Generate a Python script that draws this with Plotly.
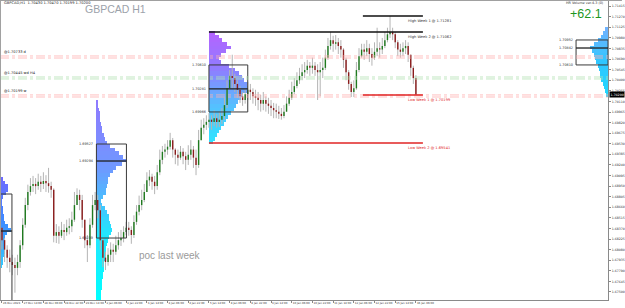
import plotly.graph_objects as go

# ---------------- data ----------------
tick_text = ["26 Dec 2023", "27 Dec 14:00", "28 Dec 06:00", "28 Dec 22:00", "29 Dec 14:00",
             "2 Jan 06:00", "2 Jan 22:00", "3 Jan 14:00", "4 Jan 06:00", "4 Jan 22:00",
             "5 Jan 14:00", "8 Jan 06:00", "8 Jan 22:00", "9 Jan 14:00", "10 Jan 06:00",
             "10 Jan 22:00", "11 Jan 14:00", "12 Jan 06:00", "12 Jan 22:00", "15 Jan 14:00",
             "16 Jan 06:00"]
tick_bar = list(range(0, 321, 16))          # H1 bar index of each time label
candle_bar = list(range(0, 321, 2))         # H1 bar index of each candle

closes = [1.6821, 1.6808, 1.6797, 1.6791, 1.6787, 1.6783, 1.6791, 1.6814, 1.6842, 1.6869,
          1.6887, 1.6895, 1.6898, 1.6895, 1.6901, 1.6898, 1.6902, 1.6899, 1.6895, 1.6890,
          1.6827, 1.6832, 1.6827, 1.6835, 1.6832, 1.6838, 1.6840, 1.6849, 1.6869, 1.6883,
          1.6876, 1.6849, 1.6821, 1.6814, 1.6842, 1.6869, 1.6876, 1.6862, 1.6821, 1.6797,
          1.6791, 1.6801, 1.6808, 1.6805, 1.6814, 1.6821, 1.6824, 1.6832, 1.6838, 1.6835,
          1.6828, 1.6846, 1.6860, 1.6869, 1.6876, 1.6887, 1.6903, 1.6908, 1.6901, 1.6895,
          1.6914, 1.6931, 1.6942, 1.6945, 1.6949, 1.6958, 1.6945, 1.6938, 1.6934, 1.6942,
          1.6936, 1.6931, 1.6938, 1.6945, 1.6934, 1.6924, 1.6958, 1.6975, 1.6979, 1.6983,
          1.6986, 1.6983, 1.6988, 1.6983, 1.6986, 1.6991, 1.7006, 1.7029, 1.7046, 1.7043,
          1.7035, 1.7027, 1.7018, 1.7013, 1.7021, 1.7027, 1.7024, 1.7018, 1.7016, 1.7013,
          1.7008, 1.7013, 1.7008, 1.7005, 1.7002, 1.6999, 1.6997, 1.6994, 1.6991, 1.6997,
          1.7008, 1.7016, 1.7024, 1.7032, 1.7040, 1.7046, 1.7051, 1.7054, 1.7060, 1.7057,
          1.7060, 1.7054, 1.7051, 1.7054, 1.7057, 1.7071, 1.7087, 1.7095, 1.7090, 1.7092,
          1.7087, 1.7082, 1.7068, 1.7051, 1.7035, 1.7024, 1.7029, 1.7054, 1.7073, 1.7082,
          1.7079, 1.7084, 1.7076, 1.7071, 1.7079, 1.7084, 1.7082, 1.7087, 1.7095, 1.7103,
          1.7106, 1.7103, 1.7092, 1.7082, 1.7079, 1.7084, 1.7087, 1.7075, 1.7057, 1.7043,
          1.7020]
highs = [1.6838, 1.6824, 1.6814, 1.6808, 1.6801, 1.6797, 1.6801, 1.6821, 1.6851, 1.6879,
         1.6897, 1.6906, 1.6909, 1.6906, 1.6912, 1.6909, 1.6914, 1.6910, 1.6920, 1.6901,
         1.6892, 1.6843, 1.6840, 1.6846, 1.6843, 1.6849, 1.6851, 1.6860, 1.6887, 1.6892,
         1.6890, 1.6883, 1.6849, 1.6828, 1.6851, 1.6883, 1.6887, 1.6883, 1.6869, 1.6824,
         1.6805, 1.6810, 1.6818, 1.6816, 1.6827, 1.6832, 1.6835, 1.6840, 1.6846, 1.6846,
         1.6840, 1.6855, 1.6869, 1.6882, 1.6890, 1.6898, 1.6914, 1.6917, 1.6912, 1.6909,
         1.6924, 1.6945, 1.6950, 1.6953, 1.6958, 1.6968, 1.6961, 1.6947, 1.6945, 1.6950,
         1.6947, 1.6942, 1.6951, 1.6958, 1.6950, 1.6945, 1.6972, 1.6986, 1.6988, 1.6992,
         1.6995, 1.6992, 1.6999, 1.6994, 1.6997, 1.7002, 1.7016, 1.7040, 1.7054, 1.7075,
         1.7049, 1.7040, 1.7032, 1.7024, 1.7029, 1.7038, 1.7035, 1.7029, 1.7027, 1.7024,
         1.7020, 1.7024, 1.7018, 1.7016, 1.7013, 1.7009, 1.7008, 1.7005, 1.7002, 1.7006,
         1.7018, 1.7027, 1.7038, 1.7043, 1.7051, 1.7057, 1.7062, 1.7065, 1.7068, 1.7065,
         1.7071, 1.7065, 1.7062, 1.7065, 1.7071, 1.7082, 1.7098, 1.71062, 1.7101, 1.7102,
         1.7098, 1.7095, 1.7084, 1.7071, 1.7054, 1.7038, 1.7040, 1.7065, 1.7084, 1.7090,
         1.7090, 1.7095, 1.7090, 1.7084, 1.7092, 1.7112, 1.7092, 1.7098, 1.7106, 1.7112,
         1.71281, 1.7112, 1.7106, 1.7095, 1.7090, 1.7092, 1.7095, 1.7092, 1.7075, 1.7060,
         1.7047]
lows = [1.6808, 1.6791, 1.6783, 1.6777, 1.6773, 1.6749, 1.6773, 1.6783, 1.6808, 1.6838,
        1.6862, 1.6882, 1.6887, 1.6884, 1.6890, 1.6887, 1.6891, 1.6887, 1.6886, 1.6879,
        1.6818, 1.6817, 1.6816, 1.6824, 1.6821, 1.6827, 1.6829, 1.6832, 1.6846, 1.6869,
        1.6862, 1.6838, 1.6810, 1.6791, 1.6810, 1.6838, 1.6862, 1.6851, 1.6808, 1.6784,
        1.6780, 1.6786, 1.6791, 1.6791, 1.6801, 1.6808, 1.6813, 1.6818, 1.6828, 1.6827,
        1.6816, 1.6824, 1.6842, 1.6855, 1.6862, 1.6873, 1.6887, 1.6895, 1.6890, 1.6884,
        1.6890, 1.6910, 1.6925, 1.6934, 1.6938, 1.6945, 1.6934, 1.6925, 1.6923, 1.6931,
        1.6925, 1.6917, 1.6924, 1.6931, 1.6920, 1.6910, 1.6920, 1.6958, 1.6966, 1.6972,
        1.6975, 1.6972, 1.6977, 1.6975, 1.6976, 1.6980, 1.6986, 1.7002, 1.7027, 1.7029,
        1.7024, 1.7016, 1.7009, 1.7005, 1.7008, 1.7013, 1.7013, 1.7008, 1.7005, 1.6999,
        1.6997, 1.6999, 1.6997, 1.6994, 1.6991, 1.6988, 1.6988, 1.6987, 1.6986, 1.6988,
        1.6997, 1.7005, 1.7013, 1.7021, 1.7029, 1.7035, 1.7040, 1.7043, 1.7049, 1.7046,
        1.7049, 1.7046, 1.7013, 1.7018, 1.7043, 1.7054, 1.7068, 1.7082, 1.7079, 1.7082,
        1.7076, 1.7071, 1.7057, 1.7040, 1.7027, 1.7017, 1.7017, 1.7027, 1.7051, 1.7071,
        1.7068, 1.7073, 1.7065, 1.7060, 1.7068, 1.7073, 1.7071, 1.7076, 1.7084, 1.7092,
        1.7098, 1.7095, 1.7084, 1.7073, 1.7071, 1.7073, 1.7076, 1.7065, 1.7046, 1.7035,
        1.70199]
first_open = 1.6838
opens = [first_open] + closes[:-1]

# weekly high / low levels
week_names = ["High Week 1", "High Week 2", "Low Week 1", "Low Week 2"]
week_levels = [1.71281, 1.71062, 1.70199, 1.69541]
week_start_bar = [279, 160, 279, 160]

# support / resistance zone lines
zone_levels = [1.70733, 1.70705, 1.70445, 1.70418, 1.70199, 1.70171]
zone_kind = ["r", "r", "g", "g", "r", "r"]
zone_labels = {0: "@1.70733 d", 2: "@1.70445 wd H4", 4: "@1.70199 w"}

# volume profiles (price bins, volume)
prof1_levels = [1.6905, 1.6900, 1.6895, 1.6890, 1.6885, 1.6880, 1.6875, 1.6870, 1.6865, 1.6860,
                1.6855, 1.6850, 1.6845, 1.6840, 1.6835, 1.6830, 1.6825, 1.6820, 1.6815, 1.6810,
                1.6805, 1.6800, 1.6795, 1.6790, 1.6785]
prof1_vol = [3, 5, 8, 8, 6, 3, 2, 2, 3, 3, 4, 4, 5, 8, 11, 7, 5, 4, 4, 5, 5, 4, 3, 3, 2]
prof1_box = (1.68842, 1.6700, 1.68335)   # top, bottom, poc

prof2_levels = [1.7010, 1.7005, 1.7000, 1.6995, 1.6990, 1.6985, 1.6980, 1.6975, 1.6970, 1.6965,
                1.6960, 1.6955, 1.6950, 1.6945, 1.6940, 1.6935, 1.6930, 1.6925, 1.6920, 1.6915,
                1.6910, 1.6905, 1.6900, 1.6895, 1.6890, 1.6885, 1.6880, 1.6875, 1.6870, 1.6865,
                1.6860, 1.6855, 1.6850, 1.6845, 1.6840, 1.6835, 1.6830, 1.6825, 1.6820, 1.6815,
                1.6810, 1.6805, 1.6800, 1.6795, 1.6790, 1.6785, 1.6780, 1.6775, 1.6770, 1.6765,
                1.6760, 1.6755, 1.6750, 1.6745, 1.6740]
prof2_vol = [2, 2, 3, 4, 4, 4, 5, 6, 6, 8, 9, 11, 14, 19, 23, 27, 30, 26, 20, 17,
             14, 12, 12, 11, 10, 10, 7, 5, 6, 9, 11, 13, 13, 14, 15, 16, 15, 13, 12, 11,
             10, 10, 9, 9, 8, 8, 8, 7, 7, 6, 6, 6, 5, 5, 5]
prof2_box = (1.69527, 1.68239, 1.69294)

prof3_levels = [1.7105, 1.7100, 1.7095, 1.7090, 1.7085, 1.7080, 1.7075, 1.7070, 1.7065, 1.7060,
                1.7055, 1.7050, 1.7045, 1.7040, 1.7035, 1.7030, 1.7025, 1.7020, 1.7015, 1.7010,
                1.7005, 1.7000, 1.6995, 1.6990, 1.6985, 1.6980, 1.6975, 1.6970, 1.6965, 1.6960,
                1.6955]
prof3_vol = [6, 10, 13, 18, 22, 17, 12, 10, 12, 20, 26, 30, 33, 35, 38, 39, 38, 34, 32, 29,
             27, 25, 22, 19, 17, 15, 12, 10, 8, 6, 4]
prof3_box = (1.70610, 1.69966, 1.70281)

prof4_levels = [1.7110, 1.7105, 1.7100, 1.7095, 1.7090, 1.7085, 1.7080, 1.7075, 1.7070, 1.7065,
                1.7060, 1.7055, 1.7050, 1.7045, 1.7040, 1.7035, 1.7030, 1.7025, 1.7020]
prof4_vol = [3, 5, 7, 10, 14, 18, 16, 14, 13, 12, 10, 9, 8, 8, 7, 5, 4, 3, 2]
prof4_box = (1.70952, 1.70610, 1.70842)

score_text = "+62.1"

# ---------------- layout helpers ----------------
W, H = 625, 308
ML, MR, MT, MB = 0, 14, 1, 8
PW, PH = W - ML - MR, H - MT - MB
X0, X1 = -1.54, 468.5
Y0, Y1 = 1.67390, 1.71486
XU = (X1 - X0) / PW          # x data units per pixel


def px_x(px):
    return X0 + (px - ML) * XU


def pap_x(px):
    return (px - ML) / PW


def pap_y(py):
    return (H - MB - py) / PH


def hex2rgb(h):
    h = h.lstrip('#')
    return [int(h[i:i + 2], 16) for i in (0, 2, 4)]


def gradient(n, stops):
    cols = []
    rgbs = [hex2rgb(s) for s in stops]
    for i in range(n):
        t = i / max(n - 1, 1) * (len(rgbs) - 1)
        k = min(int(t), len(rgbs) - 2)
        f = t - k
        c = [round(rgbs[k][j] + (rgbs[k + 1][j] - rgbs[k][j]) * f) for j in range(3)]
        cols.append(f"rgb({c[0]},{c[1]},{c[2]})")
    return cols


fig = go.Figure()
shapes = []
anns = []


def add_profile(levels, vols, anchor_bar, direction, stops):
    n = len(levels)
    fig.add_trace(go.Bar(
        y=levels, x=[v * XU * direction for v in vols], base=[anchor_bar] * n,
        orientation='h', width=0.0005,
        marker=dict(color=gradient(n, stops), line=dict(width=0)),
        hoverinfo='skip', showlegend=False))


def add_box(left, right, box, draw_labels=True):
    top, bot, poc = box
    shapes.append(dict(type='rect', xref='x', yref='y', x0=left, x1=right, y0=bot, y1=top,
                       line=dict(color='#3a3a3a', width=1), layer='above'))
    shapes.append(dict(type='line', xref='x', yref='y', x0=left, x1=right, y0=poc, y1=poc,
                       line=dict(color='#202020', width=1.3), layer='above'))
    if draw_labels:
        for v in (top, poc, bot):
            anns.append(dict(x=left, y=v, xref='x', yref='y', text=f"{v:.5f}", showarrow=False,
                             xanchor='right', yanchor='middle', xshift=-1,
                             font=dict(size=3.4, color='#333333', family='DejaVu Sans')))


# profiles
add_profile(prof1_levels, prof1_vol, X0, 1, ['#6d6cff', '#3d8cff', '#33c8ff'])
add_profile(prof2_levels, prof2_vol, 73, 1, ['#8f7bff', '#6f98ff', '#22e6ff', '#00ffff'])
add_profile(prof3_levels, prof3_vol, 160, 1, ['#b463ff', '#8f7dff', '#55c0ff', '#2ee4ff'])
add_profile(prof4_levels, prof4_vol, X1, -1, ['#6fb3ff', '#2fc6ff', '#22d8ff'])

add_box(X0, 7.7, prof1_box, draw_labels=False)
add_box(73, 96.2, prof2_box)
add_box(160, 190, prof3_box)
add_box(443.8, X1, prof4_box)

# candle wicks
wx, wy = [], []
for b, h, l in zip(candle_bar, highs, lows):
    wx += [b, b, None]
    wy += [l, h, None]
fig.add_trace(go.Scatter(x=wx, y=wy, mode='lines', line=dict(color='#b4b4b4', width=1),
                         hoverinfo='skip', showlegend=False))

# candle bodies
for up, col in ((True, '#1f7a1f'), (False, '#8b1c1c')):
    bx, by = [], []
    for b, o, c in zip(candle_bar, opens, closes):
        if (c >= o) == up:
            bx += [b, b, None]
            by += [o, c, None]
    fig.add_trace(go.Scatter(x=bx, y=by, mode='lines', line=dict(color=col, width=1.4),
                             hoverinfo='skip', showlegend=False))

# zone lines
for i, (lv, kd) in enumerate(zip(zone_levels, zone_kind)):
    col = '#ffb0b0' if kd == 'r' else '#b4e2b4'
    shapes.append(dict(type='line', xref='x', yref='y', x0=X0, x1=X1, y0=lv, y1=lv,
                       line=dict(color=col, width=0.8, dash='dashdot'), layer='above'))
    if i in zone_labels:
        anns.append(dict(x=pap_x(2), y=lv, xref='paper', yref='y', text=zone_labels[i],
                         showarrow=False, xanchor='left', yanchor='bottom', yshift=0,
                         font=dict(size=3.6, color='#222222', family='DejaVu Sans')))

# weekly lines
line_end = px_x(425)
for name, lv, sb in zip(week_names, week_levels, week_start_bar):
    col = '#111111' if name.startswith('High') else '#e02424'
    shapes.append(dict(type='line', xref='x', yref='y', x0=sb, x1=line_end, y0=lv, y1=lv,
                       line=dict(color=col, width=1.6), layer='above'))
    anns.append(dict(x=px_x(408), y=lv, xref='x', yref='y', text=f"{name} @ {lv:.5f}",
                     showarrow=False, xanchor='left', yanchor='top', yshift=-1,
                     font=dict(size=3.6, color='#333333' if name.startswith('High') else '#e02424',
                               family='DejaVu Sans')))

# texts
anns.append(dict(x=pap_x(2), y=pap_y(3.5), xref='paper', yref='paper',
                 text=f"GBPCAD,H1  {opens[-1]:.5f} {highs[-1]:.5f} {lows[-1]:.5f} {closes[-1]:.5f}",
                 showarrow=False, xanchor='left', yanchor='middle',
                 font=dict(size=3.6, color='#222222', family='DejaVu Sans')))
anns.append(dict(x=pap_x(83), y=pap_y(9.5), xref='paper', yref='paper', text="GBPCAD H1",
                 showarrow=False, xanchor='left', yanchor='middle',
                 font=dict(size=10.5, color='#9ca2aa', family='Liberation Sans')))
anns.append(dict(x=pap_x(571), y=pap_y(14), xref='paper', yref='paper', text=score_text,
                 showarrow=False, xanchor='left', yanchor='middle',
                 font=dict(size=12.5, color='#1d961d', family='Liberation Sans')))
anns.append(dict(x=pap_x(609), y=pap_y(3.5), xref='paper', yref='paper',
                 text="HR Volume ver.4.3 (0)", showarrow=False, xanchor='right', yanchor='middle',
                 font=dict(size=3.4, color='#333333', family='DejaVu Sans')))
anns.append(dict(x=pap_x(138), y=pap_y(255), xref='paper', yref='paper', text="poc last week",
                 showarrow=False, xanchor='left', yanchor='middle',
                 font=dict(size=10, color='#9a9a9a', family='Liberation Sans')))
anns.append(dict(x=1, y=closes[-1], xref='paper', yref='y', text=f"{closes[-1]:.5f}",
                 showarrow=False, xanchor='left', yanchor='middle', xshift=1,
                 bgcolor='#000000', borderpad=0.5,
                 font=dict(size=3.2, color='#ffffff', family='DejaVu Sans')))

# window borders
shapes.append(dict(type='line', xref='paper', yref='paper', x0=0, x1=pap_x(W), y0=pap_y(0.5),
                   y1=pap_y(0.5), line=dict(color='#a0a0a0', width=1)))
shapes.append(dict(type='line', xref='paper', yref='paper', x0=pap_x(0.5), x1=pap_x(0.5),
                   y0=0, y1=1, line=dict(color='#a0a0a0', width=1)))

fig.update_layout(
    width=W, height=H, margin=dict(l=ML, r=MR, t=MT, b=MB, pad=0),
    paper_bgcolor='white', plot_bgcolor='white',
    barmode='overlay', bargap=0, hovermode=False, showlegend=False,
    shapes=shapes, annotations=anns,
    xaxis=dict(range=[X0, X1], showgrid=False, zeroline=False, tickmode='array',
               tickvals=tick_bar, ticktext=tick_text, ticks='outside', ticklen=2,
               tickcolor='#888888', ticklabelposition='outside right', tickangle=0,
               tickfont=dict(size=2.7, color='#333333', family='DejaVu Sans'),
               showline=True, linecolor='#8a8a8a', linewidth=1, fixedrange=True),
    yaxis=dict(range=[Y0, Y1], side='right', showgrid=False, zeroline=False,
               tick0=1.67500, dtick=0.00145, tickformat='.5f', ticks='outside', ticklen=2,
               tickcolor='#888888', tickfont=dict(size=3.2, color='#333333', family='DejaVu Sans'),
               showline=True, linecolor='#8a8a8a', linewidth=1, fixedrange=True),
)

fig.write_html("out.html")
